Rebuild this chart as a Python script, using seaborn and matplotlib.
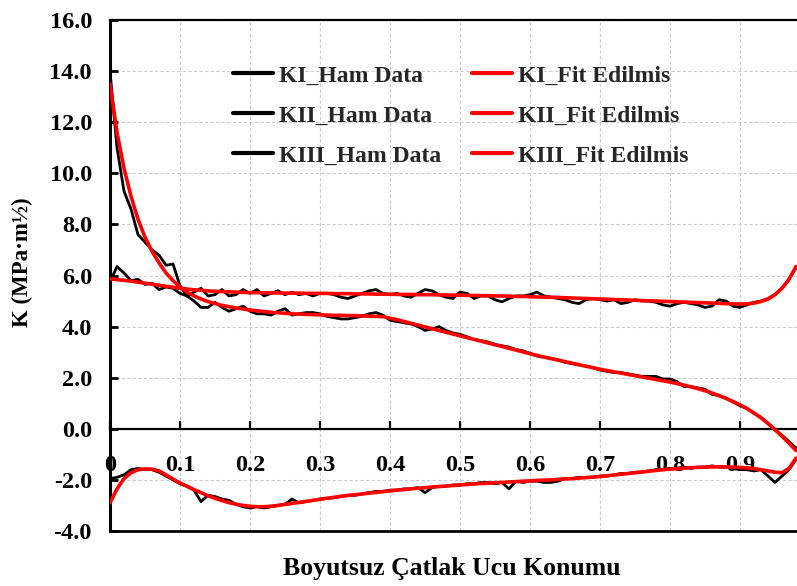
import numpy as np
import pandas as pd
import matplotlib
matplotlib.use("Agg")
import matplotlib.pyplot as plt
from matplotlib.ticker import FixedLocator, FuncFormatter
import seaborn as sns

# ---------------- data ----------------
x = np.round(np.arange(0, 0.981, 0.01), 2)

KI_raw = [5.75, 6.35, 6.1, 5.8, 5.85, 5.65, 5.7, 5.45, 5.55, 5.5,
          5.3, 5.2, 5.35, 5.5, 5.2, 5.25, 5.45, 5.2, 5.25, 5.45,
          5.3, 5.45, 5.2, 5.3, 5.4, 5.25, 5.35, 5.25, 5.3, 5.2,
          5.3, 5.3, 5.25, 5.15, 5.1, 5.2, 5.3, 5.4, 5.45, 5.3,
          5.25, 5.3, 5.2, 5.15, 5.3, 5.45, 5.4, 5.25, 5.15, 5.1,
          5.35, 5.3, 5.1, 5.2, 5.2, 5.05, 4.97, 5.1, 5.2, 5.2,
          5.25, 5.35, 5.2, 5.15, 5.1, 5.05, 4.95, 4.9, 5.05, 5.1,
          5.05, 5.0, 5.05, 4.9, 4.95, 5.05, 5.0, 5.0, 4.95, 4.85,
          4.8, 4.9, 4.95, 4.9, 4.85, 4.75, 4.8, 5.05, 5.0, 4.8,
          4.75, 4.85, 4.95, 5.0, 5.1, 5.25, 5.5, 5.85, 6.3]

KII_raw = [14.0, 11.0, 9.3, 8.6, 7.6, 7.3, 7.0, 6.8, 6.4, 6.45,
           5.6, 5.2, 5.0, 4.75, 4.75, 4.95, 4.75, 4.6, 4.7, 4.8,
           4.6, 4.5, 4.5, 4.45, 4.6, 4.7, 4.45, 4.5, 4.55, 4.55,
           4.5, 4.4, 4.35, 4.3, 4.3, 4.35, 4.4, 4.5, 4.55, 4.45,
           4.25, 4.2, 4.15, 4.1, 4.0, 3.85, 3.9, 4.0, 3.85, 3.75,
           3.7, 3.6, 3.5, 3.45, 3.4, 3.3, 3.25, 3.2, 3.1, 3.05,
           2.95, 2.85, 2.8, 2.75, 2.7, 2.6, 2.55, 2.5, 2.45, 2.4,
           2.3, 2.25, 2.2, 2.2, 2.15, 2.1, 2.05, 2.05, 2.05, 1.95,
           1.95, 1.85, 1.65, 1.65, 1.6, 1.55, 1.35, 1.3, 1.2, 1.05,
           0.9, 0.8, 0.6, 0.45, 0.2, -0.05, -0.25, -0.5, -0.75]

KIII_raw = [-1.95, -1.9, -1.8, -1.6, -1.55, -1.6, -1.6, -1.7, -1.85, -2.0,
            -2.15, -2.25, -2.4, -2.85, -2.6, -2.65, -2.75, -2.8, -2.95, -3.05,
            -3.1, -3.05, -3.1, -3.05, -3.0, -2.95, -2.75, -2.9, -2.85, -2.8,
            -2.75, -2.72, -2.7, -2.65, -2.6, -2.6, -2.55, -2.5, -2.45, -2.45,
            -2.4, -2.4, -2.35, -2.35, -2.3, -2.5, -2.3, -2.25, -2.25, -2.2,
            -2.2, -2.15, -2.15, -2.1, -2.1, -2.15, -2.1, -2.35, -2.05, -2.1,
            -2.05, -2.05, -2.1, -2.1, -2.05, -1.95, -1.95, -1.9, -1.9, -1.9,
            -1.85, -1.85, -1.8, -1.75, -1.75, -1.7, -1.7, -1.65, -1.6, -1.6,
            -1.55, -1.55, -1.5, -1.55, -1.5, -1.5, -1.45, -1.5, -1.5, -1.55,
            -1.6, -1.6, -1.65, -1.6, -1.85, -2.1, -1.85, -1.6, -1.2]

KI_fit = [5.87, 5.84, 5.81, 5.78, 5.74, 5.70, 5.66, 5.62, 5.58, 5.54,
          5.50, 5.47, 5.44, 5.42, 5.40, 5.38, 5.37, 5.36, 5.35, 5.34,
          5.33, 5.33, 5.32, 5.32, 5.32, 5.31, 5.31, 5.31, 5.30, 5.30,
          5.30, 5.30, 5.29, 5.29, 5.29, 5.28, 5.28, 5.28, 5.27, 5.27,
          5.27, 5.26, 5.26, 5.26, 5.25, 5.25, 5.25, 5.24, 5.24, 5.23,
          5.23, 5.22, 5.22, 5.21, 5.21, 5.20, 5.20, 5.19, 5.18, 5.18,
          5.17, 5.16, 5.15, 5.15, 5.14, 5.13, 5.12, 5.11, 5.10, 5.09,
          5.08, 5.07, 5.06, 5.05, 5.04, 5.03, 5.02, 5.01, 5.00, 4.99,
          4.98, 4.97, 4.96, 4.95, 4.94, 4.93, 4.92, 4.91, 4.90, 4.89,
          4.88, 4.89, 4.92, 4.98, 5.08, 5.25, 5.50, 5.85, 6.35]

KII_fit = [13.5, 11.6, 10.2, 9.1, 8.2, 7.5, 6.95, 6.5, 6.1, 5.8,
           5.55, 5.35, 5.2, 5.08, 4.98, 4.9, 4.83, 4.78, 4.73, 4.69,
           4.65, 4.62, 4.59, 4.56, 4.54, 4.52, 4.50, 4.49, 4.48, 4.47,
           4.46, 4.45, 4.44, 4.44, 4.43, 4.43, 4.42, 4.41, 4.40, 4.39,
           4.33, 4.27, 4.20, 4.13, 4.06, 3.99, 3.92, 3.85, 3.78, 3.71,
           3.64, 3.57, 3.50, 3.43, 3.36, 3.29, 3.22, 3.15, 3.08, 3.01,
           2.94, 2.87, 2.81, 2.75, 2.69, 2.63, 2.57, 2.51, 2.45, 2.39,
           2.33, 2.28, 2.23, 2.18, 2.13, 2.08, 2.03, 1.98, 1.93, 1.88,
           1.83, 1.77, 1.71, 1.64, 1.57, 1.49, 1.40, 1.30, 1.19, 1.07,
           0.94, 0.79, 0.62, 0.43, 0.21, -0.03, -0.29, -0.56, -0.85]

KIII_fit = [-2.90, -2.35, -1.95, -1.72, -1.60, -1.57, -1.58, -1.65, -1.80, -1.97,
            -2.12, -2.25, -2.38, -2.50, -2.62, -2.72, -2.81, -2.89, -2.95, -3.00,
            -3.03, -3.05, -3.05, -3.03, -3.00, -2.96, -2.92, -2.88, -2.84, -2.80,
            -2.76, -2.72, -2.68, -2.64, -2.61, -2.58, -2.55, -2.52, -2.49, -2.46,
            -2.43, -2.40, -2.38, -2.35, -2.33, -2.30, -2.28, -2.26, -2.24, -2.22,
            -2.20, -2.18, -2.16, -2.14, -2.13, -2.11, -2.10, -2.08, -2.07, -2.05,
            -2.04, -2.02, -2.01, -2.00, -1.98, -1.96, -1.95, -1.93, -1.91, -1.89,
            -1.87, -1.84, -1.81, -1.78, -1.75, -1.72, -1.69, -1.66, -1.63, -1.60,
            -1.58, -1.56, -1.54, -1.52, -1.51, -1.50, -1.49, -1.49, -1.49, -1.50,
            -1.51, -1.53, -1.56, -1.60, -1.65, -1.70, -1.72, -1.55, -1.15]

raw_labels = ["KI_Ham Data", "KII_Ham Data", "KIII_Ham Data"]
fit_labels = ["KI_Fit Edilmis", "KII_Fit Edilmis", "KIII_Fit Edilmis"]
x_ticks = [0, 0.1, 0.2, 0.3, 0.4, 0.5, 0.6, 0.7, 0.8, 0.9]
y_ticks = [-4, -2, 0, 2, 4, 6, 8, 10, 12, 14, 16]
x_label = "Boyutsuz Çatlak Ucu Konumu"
y_label = "K (MPa·m½)"

# ---------------- style ----------------
sns.set_theme(style="white")
plt.rcParams["font.family"] = ["Liberation Serif", "DejaVu Serif"]
plt.rcParams["font.weight"] = "bold"

W, H = 797, 586
fig = plt.figure(figsize=(W / 100, H / 100), dpi=100)
ax = fig.add_axes([110 / W, 1 - 531 / H, 700 / W, 511 / H])

raws = [KI_raw, KII_raw, KIII_raw]
fits = [KI_fit, KII_fit, KIII_fit]
for vals, lab in zip(raws, raw_labels):
    sns.lineplot(x=x, y=vals, color="black", lw=2.0, label=lab, ax=ax, zorder=3)
for vals, lab in zip(fits, fit_labels):
    sns.lineplot(x=x, y=vals, color="#ff0000", lw=2.6, label=lab, ax=ax, zorder=4)

ax.set_xlim(0, 1.0)
ax.set_ylim(-4, 16)
ax.xaxis.set_major_locator(FixedLocator(x_ticks))
ax.yaxis.set_major_locator(FixedLocator(y_ticks))
ax.xaxis.set_major_formatter(FuncFormatter(lambda v, p: "0" if v == 0 else f"{v:.1f}"))
ax.yaxis.set_major_formatter(FuncFormatter(lambda v, p: f"{v:.1f}"))

ax.grid(True, color="#cccccc", lw=0.8, ls=(0, (3, 2)))
for gx in [1.0]:
    ax.axvline(gx, color="#cccccc", lw=0.8, ls=(0, (3, 2)), zorder=0)
ax.set_axisbelow(True)

for s in ["left", "top", "right"]:
    ax.spines[s].set_color("black")
ax.spines["left"].set_linewidth(2.2)
ax.spines["top"].set_linewidth(1.6)
ax.spines["right"].set_linewidth(1.6)
ax.spines["bottom"].set_position(("data", 0))
ax.spines["bottom"].set_color("black")
ax.spines["bottom"].set_linewidth(1.6)
ax.axhline(-4, color="black", lw=2.0, clip_on=False, zorder=5)

ax.tick_params(axis="y", direction="in", length=6, width=2, colors="black",
               labelsize=17.5, pad=13, left=True)
ax.tick_params(axis="x", direction="in", length=6, width=1.6, colors="black",
               labelsize=17.5, pad=19, bottom=True)
for t in ax.get_xticklabels() + ax.get_yticklabels():
    t.set_fontweight("bold")

ax.set_xlabel("")
ax.set_ylabel("")
fig.text(452 / W, 1 - 569 / H, x_label, ha="center", va="center",
         fontsize=18.5, fontweight="bold", color="black")
fig.text(22 / W, 1 - 262 / H, y_label, ha="center", va="center", rotation=90,
         fontsize=16.5, fontweight="bold", color="black")

handles, labels = ax.get_legend_handles_labels()
leg = ax.legend(handles, labels, ncol=2, loc="upper left",
                bbox_to_anchor=(233 / W, 1 - 65 / H), bbox_transform=fig.transFigure,
                frameon=False, fontsize=17, handlelength=1.7, handletextpad=0.25,
                columnspacing=1.3, labelspacing=0.78, borderpad=0, borderaxespad=0)
for t in leg.get_texts():
    t.set_fontweight("bold")
for lh in leg.get_lines():
    lh.set_linewidth(3)

fig.savefig("out.png", dpi=100)
